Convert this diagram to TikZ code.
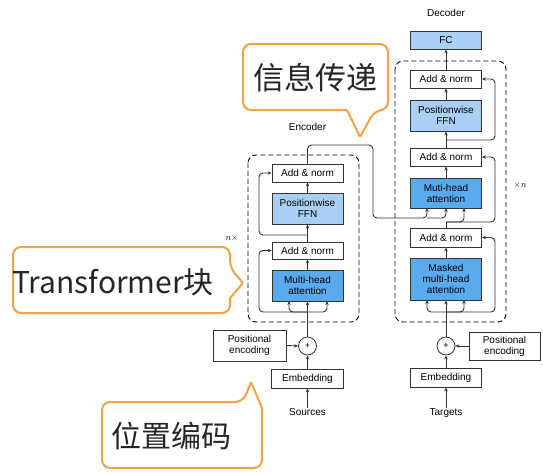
\documentclass[tikz,border=0pt]{standalone}
\usepackage{fontspec}
\setmainfont{Liberation Sans}
\newfontfamily\cjk{Noto Sans CJK SC}
\usetikzlibrary{arrows.meta}
\definecolor{lblue}{HTML}{A9CFF5}
\definecolor{dblue}{HTML}{5AAAF0}
\definecolor{orng}{HTML}{F2A34A}
\definecolor{ln}{HTML}{333333}
\tikzset{
  blk/.style={draw=ln, line width=0.8pt, minimum width=71pt, inner sep=0pt, align=center,
    font=\fontsize{10}{11}\selectfont},
  ffn/.style={blk, fill=lblue},
  att/.style={blk, fill=dblue},
  pe/.style={blk, minimum width=72pt},
  plusc/.style={draw=ln, line width=0.8pt, circle, minimum size=18pt, inner sep=0pt, font=\fontsize{9}{9}\selectfont},
  lbl/.style={font=\fontsize{10}{10}\selectfont, inner sep=0pt},
  nlbl/.style={font=\fontsize{9}{9}\selectfont, inner sep=0pt},
  con/.style={draw=ln, line width=0.9pt},
  arr/.style={con, -{Stealth[length=4pt,width=3.4pt]}},
  rc/.style={rounded corners=4pt},
  dbox/.style={draw=black, line width=0.9pt, dash pattern=on 5pt off 3pt, rounded corners=8pt},
  callout/.style={draw=orng, line width=2pt, fill=white},
  big/.style={font=\cjk\fontsize{31}{31}\selectfont, text=black!85, inner sep=0pt}
}
\begin{document}
\begin{tikzpicture}[x=1pt,y=-1pt]
\useasboundingbox (0,0) rectangle (543,472);

% ---------- Encoder ----------
\node[lbl] (enclbl) at (307.5,127) {Encoder};
\draw[dbox] (248,155) rectangle (359,322);
\node[blk, minimum height=18pt] (eAN2) at (307.5,173) {Add \& norm};
\node[ffn, minimum height=31pt] (eFFN) at (307.5,208.5) {Positionwise\\FFN};
\node[blk, minimum height=17pt] (eAN1) at (307.5,250.5) {Add \& norm};
\node[att, minimum height=31pt] (eMHA) at (307.5,285.5) {Multi-head\\attention};
\node[plusc] (eplus) at (307.5,346) {+};
\node[pe, minimum width=73pt, minimum height=31pt] (ePE) at (249.5,345.5) {Positional\\encoding};
\node[blk, minimum width=72pt, minimum height=19pt] (eEmb) at (307.5,378.5) {Embedding};
\node[lbl] (src) at (307.5,412) {Sources};
\node[nlbl] (encn) at (232,238) {$n\times$};

\draw[arr] (src.north) -- (eEmb.south);
\draw[arr] (eEmb.north) -- (eplus.south);
\draw[arr] (ePE.east) -- (eplus.west);
\draw[arr] (eplus.north) -- (eMHA.south);
\coordinate (eb) at (307.5,312);
\draw[arr, rc] (eb) -- (289,312) -- (289,301);
\draw[arr, rc] (eb) -- (327,312) -- (327,301);
\draw[arr, rc] (eb) -- (259,312) -- (259,250.5) -- (eAN1.west);
\draw[arr] (eMHA.north) -- (eAN1.south);
\draw[arr] (eAN1.north) -- (eFFN.south);
\coordinate (em) at (307.5,235);
\draw[arr, rc] (em) -- (259,235) -- (259,173) -- (eAN2.west);
\draw[arr] (eFFN.north) -- (eAN2.south);

% ---------- Decoder ----------
\node[lbl] (declbl) at (446,13) {Decoder};
\node[ffn, minimum height=18pt] (FC) at (446,40) {FC};
\draw[dbox] (395,61) rectangle (506,322);
\node[blk, minimum height=18pt] (dAN3) at (446,79) {Add \& norm};
\node[ffn, minimum height=31pt] (dFFN) at (446,115.5) {Positionwise\\FFN};
\node[blk, minimum height=18pt] (dAN2) at (446,157) {Add \& norm};
\node[att, minimum height=30pt] (dMHA) at (446,193) {Muti-head\\attention};
\node[blk, minimum height=19pt] (dAN1) at (446,237.5) {Add \& norm};
\node[att, minimum height=42pt] (dMMHA) at (446,279) {Masked\\multi-head\\attention};
\node[plusc] (dplus) at (446,346) {+};
\node[pe, minimum width=71pt, minimum height=28pt] (dPE) at (504.5,346) {Positional\\encoding};
\node[blk, minimum height=19pt] (dEmb) at (446,377.5) {Embedding};
\node[lbl] (tgt) at (446,413) {Targets};
\node[nlbl] (decn) at (520,185) {$\times n$};

\draw[arr] (tgt.north) -- (dEmb.south);
\draw[arr] (dEmb.north) -- (dplus.south);
\draw[arr] (dPE.west) -- (dplus.east);
\draw[arr] (dplus.north) -- (dMMHA.south);
\coordinate (db) at (446,312);
\draw[arr, rc] (db) -- (427,312) -- (427,300);
\draw[arr, rc] (db) -- (464,312) -- (464,300);
\draw[arr, rc] (db) -- (495,312) -- (495,237.5) -- (dAN1.east);
\draw[arr] (dMMHA.north) -- (dAN1.south);
\coordinate (dq) at (446,222);
\draw[con] (dAN1.north) -- (dq);
\draw[arr, rc] (dq) -- (464,222) -- (464,208);
\draw[arr, rc] (dq) -- (495,222) -- (495,157) -- (dAN2.east);
\draw[arr] (dMHA.north) -- (dAN2.south);
\draw[arr] (dAN2.north) -- (dFFN.south);
\coordinate (dm) at (446,140);
\draw[arr, rc] (dm) -- (495,140) -- (495,79) -- (dAN3.east);
\draw[arr] (dFFN.north) -- (dAN3.south);
\draw[arr] (dAN3.north) -- (FC.south);

% ---------- Encoder -> Decoder ----------
\coordinate (mj) at (427,218);
\draw[arr, rc] (eAN2.north) -- (307.5,145) -- (373,145) -- (373,218) -- (mj) -- (427,208);
\draw[arr, rc] (mj) -- (446,218) -- (446,208);

% ---------- Callouts ----------
\draw[callout] [rounded corners=8pt] (300,44) -- (388,44) -- (388,110) -- (375,110)
  [rounded corners=1pt] -- (360,137) -- (347,110) [rounded corners=8pt] -- (243,110) -- (243,44) -- cycle;
\node[big] (c1) at (315,78) {信息传递};

\draw[callout] [rounded corners=8pt] (120,247) -- (230,247) -- (230,268)
  [rounded corners=1pt] -- (243,283) -- (230,298) [rounded corners=8pt] -- (230,313) -- (13,313) -- (13,247) -- cycle;
\node[big, font=\cjk\fontsize{30}{30}\selectfont] (c2) at (113,282) {Transformer块};

\draw[callout] [rounded corners=8pt] (180,468) -- (102,468) -- (102,402) -- (243,402)
  [rounded corners=1pt] -- (251,382) -- (262,408) [rounded corners=8pt] -- (262,468) -- cycle;
\node[big, font=\cjk\fontsize{30}{30}\selectfont] (c3) at (171,436) {位置编码};
\end{tikzpicture}
\end{document}
